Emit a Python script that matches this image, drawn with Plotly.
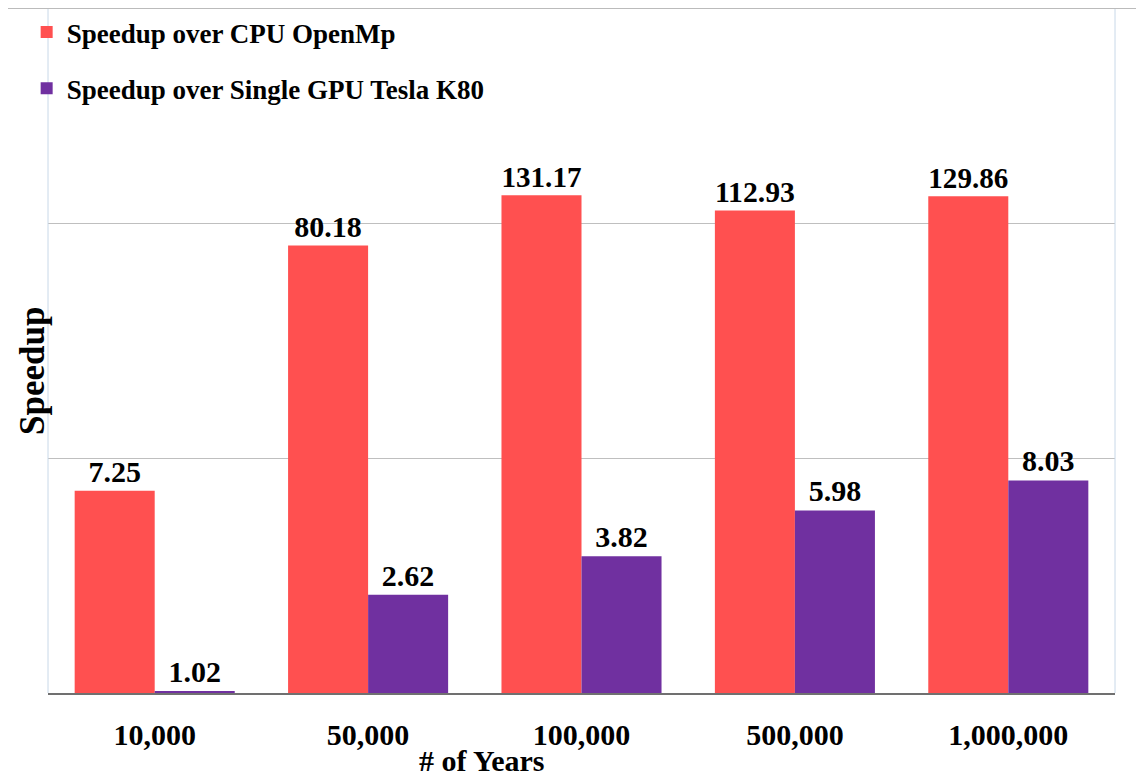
import plotly.graph_objects as go

categories = ["10,000", "50,000", "100,000", "500,000", "1,000,000"]
cpu_speedup = [7.25, 80.18, 131.17, 112.93, 129.86]
gpu_speedup = [1.02, 2.62, 3.82, 5.98, 8.03]
series_names = ["Speedup over CPU OpenMp", "Speedup over Single GPU Tesla K80"]

FONT = "Liberation Serif"
fig = go.Figure()
fig.add_trace(go.Bar(x=categories, y=cpu_speedup, name=f"<b>{series_names[0]}</b>",
                     legendgroup="a",
                     marker=dict(color="#FF5050", line=dict(width=0)),
                     text=[f"{v:.2f}" for v in cpu_speedup], textposition="outside",
                     texttemplate="<b>%{text}</b>",
                     textfont=dict(family=FONT, size=30, color="black"), cliponaxis=False))
fig.add_trace(go.Bar(x=categories, y=gpu_speedup, name=f"<b>{series_names[1]}</b>",
                     legendgroup="b",
                     marker=dict(color="#7030A0", line=dict(width=0)),
                     text=[f"{v:.2f}" for v in gpu_speedup], textposition="outside",
                     texttemplate="<b>%{text}</b>",
                     textfont=dict(family=FONT, size=30, color="black"), cliponaxis=False))

fig.update_layout(
    width=1144, height=777,
    margin=dict(l=40, r=37, t=0, b=92),
    paper_bgcolor="white", plot_bgcolor="white",
    barmode="group", bargap=0.25, bargroupgap=0,
    font=dict(family=FONT, color="black"),
    showlegend=True,
    legend=dict(x=-0.02, y=1.0, xanchor="left", yanchor="top",
                font=dict(family=FONT, size=27, color="black"),
                bgcolor="rgba(0,0,0,0)", tracegroupgap=18, itemwidth=30,
                traceorder="grouped"),
    xaxis=dict(showgrid=False, showline=True, linecolor="#707070", linewidth=1.5,
               ticks="", tickfont=dict(family=FONT, size=30, color="black"),
               ticklabelstandoff=14, automargin=False,
               tickvals=categories, ticktext=[f"<b>{c}</b>" for c in categories]),
    yaxis=dict(type="log", range=[0, 2.915], showgrid=True, gridcolor="#BFBFBF",
               gridwidth=1, showticklabels=False, ticks="", zeroline=False,
               tickvals=[1, 10, 100, 1000], showline=False, automargin=False),
    shapes=[
        dict(type="line", xref="paper", yref="paper", x0=0, x1=0, y0=0, y1=1,
             line=dict(color="#C8D8E8", width=1)),
        dict(type="line", xref="paper", yref="paper", x0=1, x1=1, y0=0, y1=1,
             line=dict(color="#C8D8E8", width=1)),
        dict(type="line", xref="paper", yref="paper", x0=-0.04, x1=1.04, y0=1, y1=1,
             line=dict(color="#BBBBBB", width=2)),
    ],
    annotations=[
        dict(text="<b>Speedup</b>", xref="paper", yref="paper", x=-0.015, y=0.47,
             xanchor="center", yanchor="middle", textangle=-90, showarrow=False,
             font=dict(family=FONT, size=35, color="black")),
        dict(text="<b># of Years</b>", xref="paper", yref="paper", x=0.407, y=-0.099,
             xanchor="center", yanchor="middle", showarrow=False,
             font=dict(family=FONT, size=30, color="black")),
    ],
)
fig.write_html("out.html")
